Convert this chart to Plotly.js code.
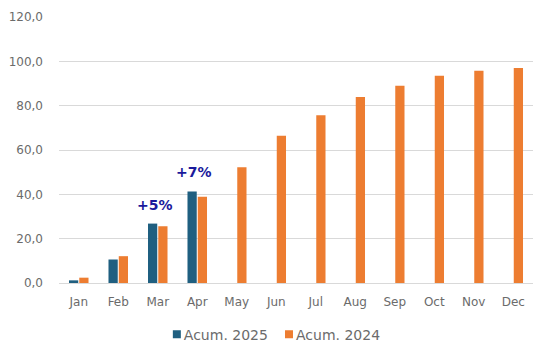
<!DOCTYPE html>
<html>
<head>
<meta charset="utf-8">
<script src="https://cdn.plot.ly/plotly-3.0.1.min.js"></script>
<style>
html,body{margin:0;padding:0;background:#fff;}
#chart{width:548px;height:359px;}
</style>
</head>
<body>
<div id="chart"></div>
<script>
const months = ['Jan','Feb','Mar','Apr','May','Jun','Jul','Aug','Sep','Oct','Nov','Dec'];
const months2025 = ['Jan','Feb','Mar','Apr'];
const acum2025 = [1.2, 10.6, 26.8, 41.3];
const acum2024 = [2.4, 12.1, 25.6, 38.9, 52.2, 66.4, 75.7, 83.9, 89.0, 93.5, 95.7, 97.0];
const growthMonths = ['Mar','Apr'];
const growthLabels = ['+5%','+7%'];
const yTicks = [0,20,40,60,80,100,120];

const font = 'DejaVu Sans, sans-serif';
const grey = '#6B6B6B';

const traces = [
  {type:'bar', name:'Acum. 2025', x:months2025, y:acum2025, marker:{color:'#1F5F80'}, legend:'legend'},
  {type:'bar', name:'Acum. 2024', x:months, y:acum2024, marker:{color:'#ED7D31'}, legend:'legend2'}
];

const annotations = growthMonths.map((m,i)=>{
  const idx = months2025.indexOf(m);
  return {
    x:m, y:acum2025[idx], xref:'x', yref:'y', text:'<b>'+growthLabels[i]+'</b>',
    showarrow:false, yanchor:'bottom', yshift:9, xshift:-3,
    font:{family:font, size:14, color:'#1A1A9C'}
  };
});

const legendBase = {orientation:'h', xanchor:'left', y:-0.194, yanchor:'middle',
                    font:{family:font, size:14, color:grey}, itemwidth:30, bgcolor:'rgba(0,0,0,0)'};

const layout = {
  width:548, height:359,
  margin:{l:59, r:15, t:17, b:76, autoexpand:false},
  paper_bgcolor:'#fff', plot_bgcolor:'#fff',
  separators:',.',
  barmode:'group', bargap:0.48, bargroupgap:0.1,
  showlegend:true,
  legend:Object.assign({}, legendBase, {x:0.179}),
  legend2:Object.assign({}, legendBase, {x:0.4156}),
  xaxis:{categoryorder:'array', categoryarray:months, tickfont:{family:font, size:12, color:grey},
         showgrid:false, zeroline:false, showline:false, ticks:'', ticklabelstandoff:10},
  yaxis:{range:[0,120], tickvals:yTicks, tickformat:'.1f', tickfont:{family:font, size:12, color:grey},
         showgrid:true, gridcolor:'#D9D9D9', gridwidth:1, zeroline:true, zerolinecolor:'#D9D9D9', zerolinewidth:1,
         showline:false, ticks:'', ticklabelstandoff:15},
  annotations:annotations
};

Plotly.newPlot('chart', traces, layout, {displayModeBar:false, staticPlot:true}).then(gd=>{
  // smaller legend squares, placed close to their text as in the reference
  gd.querySelectorAll('.traces .legendpoints path').forEach(p=>{
    p.setAttribute('d','M4,4H-4V-4H4Z');
    p.setAttribute('transform','translate(33,0)');
  });
});
</script>
</body>
</html>
